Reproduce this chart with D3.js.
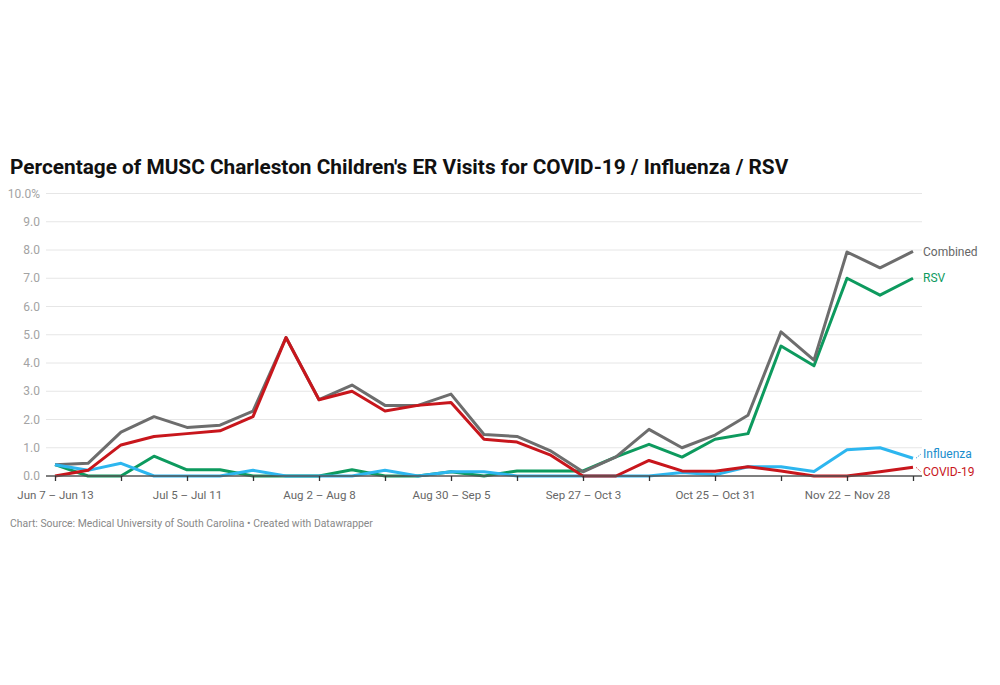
<!DOCTYPE html>
<html>
<head>
<meta charset="utf-8">
<script src="https://cdn.jsdelivr.net/npm/d3@7"></script>
<style>
  body { margin: 0; background: #fff; font-family: Roboto, "Noto Sans", sans-serif; }
  svg { display: block; }
</style>
</head>
<body>
<svg id="chart" width="1000" height="685"></svg>
<script>
const weeks = [
  "Jun 7 – Jun 13","Jun 14 – Jun 20","Jun 21 – Jun 27","Jun 28 – Jul 4",
  "Jul 5 – Jul 11","Jul 12 – Jul 18","Jul 19 – Jul 25","Jul 26 – Aug 1",
  "Aug 2 – Aug 8","Aug 9 – Aug 15","Aug 16 – Aug 22","Aug 23 – Aug 29",
  "Aug 30 – Sep 5","Sep 6 – Sep 12","Sep 13 – Sep 19","Sep 20 – Sep 26",
  "Sep 27 – Oct 3","Oct 4 – Oct 10","Oct 11 – Oct 17","Oct 18 – Oct 24",
  "Oct 25 – Oct 31","Nov 1 – Nov 7","Nov 8 – Nov 14","Nov 15 – Nov 21",
  "Nov 22 – Nov 28","Nov 29 – Dec 5","Dec 6 – Dec 12"
];
const combined  = [0.4,0.45,1.55,2.1,1.72,1.8,2.3,4.9,2.7,3.22,2.5,2.5,2.9,1.47,1.4,0.9,0.15,0.68,1.65,1.0,1.45,2.15,5.1,4.1,7.93,7.37,7.95];
const rsv       = [0.4,0.0,0.0,0.7,0.22,0.22,0.0,0.0,0.0,0.22,0.0,0.0,0.15,0.0,0.18,0.18,0.18,0.68,1.12,0.67,1.3,1.5,4.6,3.9,7.0,6.4,7.0];
const influenza = [0.4,0.2,0.45,0.0,0.0,0.0,0.2,0.0,0.0,0.0,0.2,0.0,0.15,0.15,0.0,0.0,0.0,0.0,0.0,0.12,0.04,0.33,0.33,0.16,0.93,1.0,0.63];
const covid     = [0.0,0.2,1.1,1.4,1.5,1.6,2.1,4.9,2.7,3.0,2.3,2.5,2.6,1.3,1.2,0.75,0.0,0.0,0.55,0.18,0.17,0.33,0.18,0.0,0.0,0.15,0.31];
const yTicks = [0,1,2,3,4,5,6,7,8,9,10];

const svg = d3.select("#chart");
const x = d3.scaleLinear().domain([0, weeks.length - 1]).range([55, 913]);
const y = d3.scaleLinear().domain([0, 10]).range([476, 193.5]);

// Title
svg.append("text").attr("x", 10).attr("y", 174)
  .attr("font-size", 20.8).attr("font-weight", 700).attr("fill", "#111")
  .text("Percentage of MUSC Charleston Children's ER Visits for COVID-19 / Influenza / RSV");

// Grid
const grid = svg.append("g");
grid.selectAll("line").data(yTicks.filter(d => d > 0)).join("line")
  .attr("x1", 46).attr("x2", 922)
  .attr("y1", d => y(d)).attr("y2", d => y(d))
  .attr("stroke", "#e6e6e6").attr("stroke-width", 1);
grid.selectAll("text").data(yTicks).join("text")
  .attr("x", 40).attr("y", d => y(d) + 4)
  .attr("text-anchor", "end").attr("font-size", 12).attr("fill", "#a3a3a3")
  .text(d => d === 10 ? "10.0%" : d.toFixed(1));

// Lines
const line = d3.line().x((d, i) => x(i)).y(d => y(d));
const series = [
  { name: "RSV", values: rsv, color: "#0d9a5e", label: "#0d9a5e" },
  { name: "Combined", values: combined, color: "#6d6d6d", label: "#666" },
  { name: "Influenza", values: influenza, color: "#2db6ef", label: "#1b8dcc" },
  { name: "COVID-19", values: covid, color: "#c8161c", label: "#c8161c" }
];
svg.append("g").selectAll("path").data(series).join("path")
  .attr("d", d => line(d.values))
  .attr("fill", "none").attr("stroke", d => d.color)
  .attr("stroke-width", 3).attr("stroke-linejoin", "round");

// Baseline + ticks
const axis = d3.axisBottom(x)
  .tickValues(d3.range(0, weeks.length, 2))
  .tickSize(5)
  .tickFormat(i => i % 4 === 0 ? weeks[i] : "");
const ax = svg.append("g").attr("transform", `translate(0,${y(0)})`).call(axis);
ax.select(".domain").attr("d", `M46,0H922`).attr("stroke", "#555").attr("stroke-width", 1.5);
ax.selectAll(".tick line").attr("stroke", "#333").attr("stroke-width", 1.3);
ax.selectAll(".tick text").attr("font-size", 11.5).attr("fill", "#666")
  .attr("font-family", "Roboto, sans-serif").attr("dy", "1.3em");

// End labels
const labelPos = { "Combined": 252, "RSV": 278, "Influenza": 454, "COVID-19": 472 };
const last = weeks.length - 1;
series.forEach(s => {
  const ly = labelPos[s.name];
  const ey = y(s.values[last]);
  if (Math.abs(ly - ey) > 4) {
    svg.append("line").attr("x1", x(last) + 3).attr("y1", ey)
      .attr("x2", 921).attr("y2", ly)
      .attr("stroke", s.label).attr("stroke-width", 1).attr("stroke-dasharray", "1,1.5");
  }
  svg.append("text").attr("x", 923).attr("y", ly + 4)
    .attr("font-size", 12).attr("fill", s.label).text(s.name);
});

// Footer
svg.append("text").attr("x", 10).attr("y", 527)
  .attr("font-size", 10.4).attr("fill", "#888")
  .text("Chart: Source: Medical University of South Carolina • Created with Datawrapper");
</script>
</body>
</html>
